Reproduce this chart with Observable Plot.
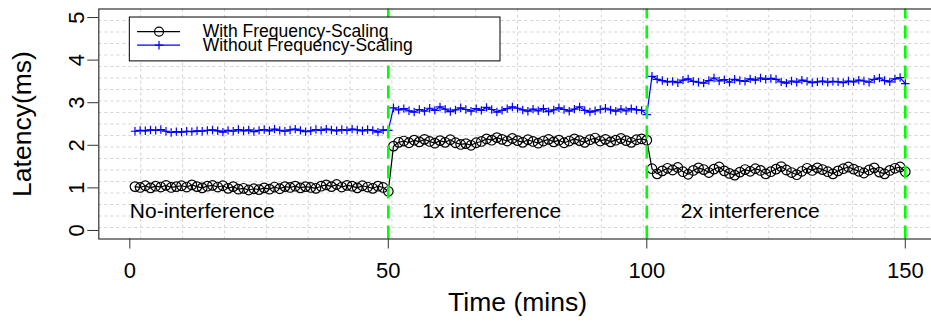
<!DOCTYPE html>
<html><head><meta charset="utf-8">
<script src="https://cdn.jsdelivr.net/npm/d3@7"></script>
<script src="https://cdn.jsdelivr.net/npm/@observablehq/plot@0.6"></script>
<style>body{margin:0;background:#fff;overflow:hidden} svg{display:block;overflow:hidden}</style>
</head><body><div id="chart"></div>
<script>
// ---- data ----
const minutes = d3.range(1, 151);
const withNoInterference = [1.03,1.01,1.05,1.00,1.04,1.02,1.06,1.01,1.03,1.05,1.02,1.07,1.03,1.00,1.04,1.06,1.02,1.05,0.99,1.03,0.97,0.99,0.95,0.98,0.96,1.00,0.97,1.02,0.98,1.03,1.01,1.04,1.00,1.03,1.01,0.99,1.04,1.07,1.03,1.08,1.02,1.06,1.04,1.00,1.05,1.02,0.99,1.04,1.01,0.92];
const with1x = [1.98,2.07,2.10,2.06,2.12,2.08,2.14,2.09,2.05,2.11,2.07,2.13,2.06,2.02,2.04,2.00,2.06,2.09,2.15,2.12,2.18,2.14,2.10,2.16,2.11,2.07,2.13,2.09,2.05,2.10,2.14,2.08,2.12,2.06,2.10,2.15,2.11,2.07,2.13,2.17,2.10,2.14,2.08,2.12,2.16,2.11,2.07,2.13,2.15,2.12];
const with2x = [1.45,1.33,1.40,1.46,1.42,1.48,1.38,1.32,1.41,1.47,1.43,1.36,1.44,1.49,1.40,1.34,1.30,1.37,1.43,1.39,1.45,1.41,1.33,1.38,1.44,1.50,1.42,1.36,1.31,1.39,1.46,1.41,1.47,1.43,1.38,1.33,1.40,1.45,1.49,1.44,1.39,1.35,1.42,1.47,1.37,1.33,1.41,1.46,1.49,1.38];
const withoutNoInterference = [2.33,2.35,2.34,2.36,2.35,2.37,2.33,2.30,2.32,2.31,2.33,2.32,2.34,2.33,2.35,2.36,2.34,2.31,2.35,2.33,2.37,2.34,2.36,2.32,2.35,2.37,2.34,2.38,2.35,2.33,2.36,2.38,2.35,2.32,2.34,2.37,2.35,2.38,2.36,2.34,2.37,2.35,2.38,2.36,2.34,2.37,2.35,2.31,2.36,2.35];
const without1x = [2.88,2.83,2.86,2.81,2.78,2.84,2.80,2.87,2.82,2.90,2.85,2.79,2.83,2.88,2.84,2.80,2.86,2.82,2.89,2.84,2.78,2.82,2.86,2.90,2.87,2.83,2.80,2.85,2.81,2.86,2.79,2.83,2.88,2.84,2.80,2.85,2.90,2.82,2.78,2.81,2.84,2.87,2.83,2.80,2.85,2.81,2.86,2.83,2.82,2.72];
const without2x = [3.62,3.55,3.52,3.49,3.50,3.47,3.53,3.56,3.50,3.48,3.46,3.52,3.58,3.51,3.54,3.48,3.55,3.52,3.50,3.56,3.53,3.58,3.55,3.57,3.55,3.49,3.46,3.51,3.48,3.53,3.50,3.47,3.49,3.51,3.48,3.50,3.49,3.47,3.51,3.49,3.53,3.51,3.48,3.55,3.58,3.52,3.49,3.56,3.59,3.45];
const seriesNames = ["With Frequency-Scaling", "Without Frequency-Scaling"];
const phaseBoundaries = [50, 100, 150];
const phaseLabels = ["No-interference", "1x interference", "2x interference"];
const phaseLabelCenters = [14, 70, 120];
const xTicks = [0, 50, 100, 150];
const yTicks = [0, 1, 2, 3, 4, 5];

// ---- tables ----
const withSeries = [...withNoInterference, ...with1x, ...with2x].map((v, i) => ({t: minutes[i], v}));
const withoutSeries = [...withoutNoInterference, ...without1x, ...without2x].map((v, i) => ({t: minutes[i], v}));
const annotations = phaseLabels.map((label, i) => ({label, t: phaseLabelCenters[i]}));

const xDomain = [-6, 156], yDomain = [-0.2, 5.2];
const xGrid = d3.range(1, 20).map(k => xDomain[0] + k * (xDomain[1] - xDomain[0]) / 20);
const yGrid = d3.range(1, 20).map(k => yDomain[0] + k * (yDomain[1] - yDomain[0]) / 20);

const plusSymbol = {draw(ctx) { const r = 4.2; ctx.moveTo(-r, 0); ctx.lineTo(r, 0); ctx.moveTo(0, -r); ctx.lineTo(0, r); }};
const font = "Liberation Sans, Arial, Helvetica, sans-serif";

// legend placement (R legend anchored at x=0, y=5)
const leg = {x1: 0, x2: 71.7, y1: 3.97, y2: 5, lineX1: 1.5, lineX2: 9.8, symX: 5.65, textX: 14.1, rows: [4.67, 4.35]};

const chart = Plot.plot({
  width: 931, height: 326,
  marginLeft: 98.3, marginRight: -4.8, marginTop: 8.5, marginBottom: 87.5,
  style: {fontFamily: font, background: "white", color: "black"},
  x: {domain: xDomain}, y: {domain: yDomain},
  marks: [
    Plot.ruleX(xGrid, {stroke: "#d3d3d3", strokeDasharray: "3,3", strokeWidth: 1}),
    Plot.ruleY(yGrid, {stroke: "#d3d3d3", strokeDasharray: "3,3", strokeWidth: 1}),
    Plot.line(withSeries, {x: "t", y: "v", stroke: "black", strokeWidth: 1.2}),
    Plot.dot(withSeries, {x: "t", y: "v", r: 4.8, stroke: "black", fill: "none", strokeWidth: 1.2}),
    Plot.line(withoutSeries, {x: "t", y: "v", stroke: "#0000ff", strokeWidth: 1.2}),
    Plot.dot(withoutSeries, {x: "t", y: "v", symbol: plusSymbol, stroke: "#0000ff", fill: "none", strokeWidth: 1.2}),
    Plot.ruleX(phaseBoundaries, {y1: yDomain[0], y2: yDomain[1], stroke: "#00ff00", strokeWidth: 2.6, strokeDasharray: "13,7"}),
    Plot.text(annotations, {x: "t", y: 0.45, text: "label", fontSize: 21, fill: "black"}),
    // legend
    Plot.rect([0], {x1: leg.x1, x2: leg.x2, y1: leg.y1, y2: leg.y2, fill: "white", stroke: "black", strokeWidth: 1}),
    Plot.ruleY([leg.rows[0]], {x1: leg.lineX1, x2: leg.lineX2, stroke: "black", strokeWidth: 1.2}),
    Plot.dot([0], {x: leg.symX, y: leg.rows[0], r: 4.5, stroke: "black", fill: "none", strokeWidth: 1.2}),
    Plot.ruleY([leg.rows[1]], {x1: leg.lineX1, x2: leg.lineX2, stroke: "#0000ff", strokeWidth: 1.2}),
    Plot.dot([0], {x: leg.symX, y: leg.rows[1], symbol: plusSymbol, stroke: "#0000ff", fill: "none", strokeWidth: 1.2}),
    Plot.text(seriesNames, {x: leg.textX, y: (d, i) => leg.rows[i], text: d => d, textAnchor: "start", fontSize: 17.5, fill: "black"}),
    // frame & axes
    Plot.frame({stroke: "#333", strokeWidth: 1.2}),
    Plot.axisX(xTicks, {anchor: "bottom", tickSize: 10, tickPadding: 13, fontSize: 22, label: null, stroke: "#333"}),
    Plot.axisY(yTicks, {anchor: "left", tickSize: 11, tickPadding: 4, tickRotate: -90, fontSize: 22, label: null, stroke: "#333"}),
    Plot.text(["Time (mins)"], {frameAnchor: "bottom", dy: 71.5, fontSize: 26.5, fill: "black"}),
    Plot.text(["Latency(ms)"], {frameAnchor: "left", textAnchor: "middle", dx: -76, rotate: -90, fontSize: 26.5, fill: "black"})
  ]
});
document.getElementById("chart").append(chart);
</script></body></html>
